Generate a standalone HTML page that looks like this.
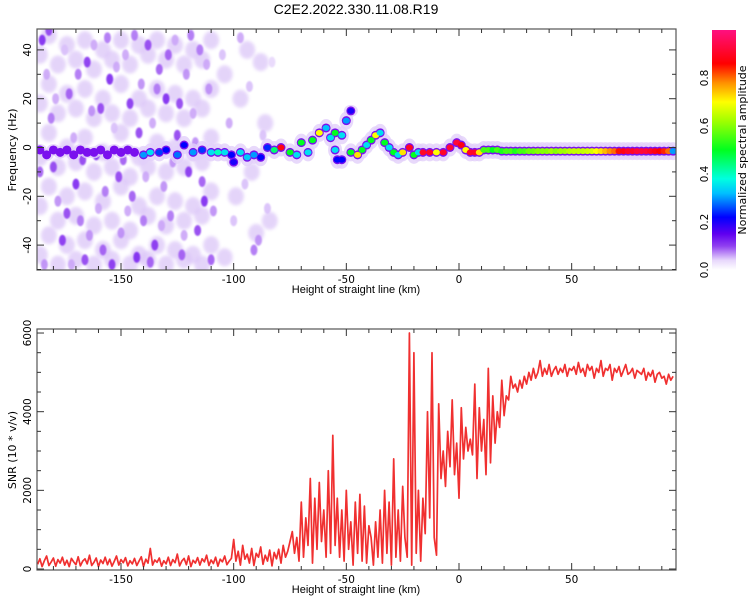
<!DOCTYPE html>
<html><head><meta charset="utf-8"><style>
html,body{margin:0;padding:0;background:#fff;}
svg{display:block;font-family:"DejaVu Sans","Liberation Sans",sans-serif;}
</style></head><body>
<svg id="chart" width="750" height="600" viewBox="0 0 750 600" xmlns="http://www.w3.org/2000/svg">
<defs>
<linearGradient id="cmap" x1="0" y1="1" x2="0" y2="0">
<stop offset="0" stop-color="#ffffff"/><stop offset="0.04" stop-color="#e8d8fc"/><stop offset="0.1" stop-color="#9040f0"/>
<stop offset="0.15" stop-color="#6000f0"/><stop offset="0.22" stop-color="#0000ff"/><stop offset="0.32" stop-color="#00c0ff"/>
<stop offset="0.38" stop-color="#00ffe0"/><stop offset="0.5" stop-color="#00ff20"/><stop offset="0.62" stop-color="#a0ff00"/>
<stop offset="0.7" stop-color="#ffff00"/><stop offset="0.78" stop-color="#ff9000"/><stop offset="0.86" stop-color="#ff0000"/><stop offset="1" stop-color="#ff1080"/>
</linearGradient>
<filter id="soft" x="-50%" y="-50%" width="200%" height="200%"><feGaussianBlur stdDeviation="0.8"/></filter>
<filter id="softer" x="-50%" y="-50%" width="200%" height="200%"><feGaussianBlur stdDeviation="1.5"/></filter>
<clipPath id="clipTop"><rect x="37" y="29" width="639" height="241"/></clipPath>
<clipPath id="clipBot"><rect x="37" y="329" width="639" height="241"/></clipPath>
</defs>
<text x="356" y="14" text-anchor="middle" font-size="14" font-family="Liberation Sans, sans-serif">C2E2.2022.330.11.08.R19</text>
<g id="topMarks" clip-path="url(#clipTop)"></g>
<g id="botMarks" clip-path="url(#clipBot)"></g>
<g id="axes"></g>
<rect x="712" y="30" width="24" height="240" fill="url(#cmap)"/>
<text transform="translate(746,150) rotate(-90)" text-anchor="middle" font-size="11">Normalized spectral amplitude</text>
<text transform="translate(16,150) rotate(-90)" text-anchor="middle" font-size="11">Frequency (Hz)</text>
<text x="356" y="293" text-anchor="middle" font-size="11" font-family="Liberation Sans, sans-serif">Height of straight line (km)</text>
<text transform="translate(16,450) rotate(-90)" text-anchor="middle" font-size="11">SNR (10 * v/v)</text>
<text x="356" y="593" text-anchor="middle" font-size="11" font-family="Liberation Sans, sans-serif">Height of straight line (km)</text>
</svg>
<script>
// ---- data ----
const hazeX=[-186,-186,-186,-186,-186,-182,-182,-182,-182,-182,-178,-178,-178,-178,-178,-174,-174,-174,-174,-174,-170,-170,-170,-170,-170,-166,-166,-166,-166,-166,-162,-162,-162,-162,-162,-158,-158,-158,-158,-158,-154,-154,-154,-154,-154,-150,-150,-150,-150,-150,-146,-146,-146,-146,-146,-142,-142,-142,-142,-142,-138,-138,-138,-138,-138,-134,-134,-134,-134,-134,-130,-130,-130,-130,-130,-126,-126,-126,-126,-126,-122,-122,-122,-122,-122,-118,-118,-118,-118,-118,-114,-114,-114,-114,-114,-110,-110,-110,-110,-110,-104,-99,-94,-90,-86,-104,-97,-92,-88,-84];
const hazeF=[38,18,-4,-24,-44,46,26,6,-16,-36,34,14,-8,-30,-48,42,22,0,-20,-40,36,16,-6,-28,-46,44,24,4,-18,-38,32,12,-10,-32,-48,40,20,-2,-22,-42,36,14,-8,-30,-46,44,26,6,-16,-38,34,12,-12,-34,-48,42,20,-4,-24,-44,38,16,-8,-28,-46,44,24,2,-20,-40,36,14,-10,-32,-48,42,22,0,-22,-42,34,12,-8,-30,-46,40,20,-2,-24,-44,36,16,-6,-28,-48,44,24,4,-18,-40,30,-20,40,-35,10,-45,20,-10,35,-30];
const noiseX=[-185,-183,-181,-180,-178,-176,-175,-173,-171,-170,-168,-166,-165,-163,-161,-160,-158,-156,-155,-153,-151,-150,-148,-146,-145,-143,-141,-140,-138,-136,-135,-133,-131,-130,-128,-126,-125,-123,-121,-120,-118,-116,-115,-113,-111,-110,-186,-184,-182,-179,-177,-174,-172,-169,-167,-164,-162,-159,-157,-154,-152,-149,-147,-144,-142,-139,-137,-134,-132,-129,-127,-124,-122,-119,-117,-114,-112,-109,-105,-102,-100,-97,-95,-93,-91,-89,-87,-85,-83];
const noiseF=[44,30,12,-8,-22,-38,40,22,4,-15,-30,-46,35,15,-3,-25,-42,45,28,8,-12,-35,38,18,-20,-45,26,-30,42,10,-40,32,-16,20,-28,44,5,-44,30,-10,14,-34,40,-22,24,-46,-10,-48,48,20,-2,-27,-48,30,-5,-36,42,16,-18,-48,33,-5,-26,46,6,-12,-47,24,-32,38,-6,18,-36,46,2,-14,34,-26,38,10,-30,45,-15,25,-42,-38,5,-25,35];
const noiseA=[.12,.06,.08,.1,.07,.11,.05,.09,.06,.12,.08,.1,.11,.07,.12,.06,.09,.08,.12,.05,.1,.07,.06,.11,.09,.12,.07,.08,.1,.06,.11,.09,.07,.12,.08,.06,.1,.09,.07,.11,.06,.1,.08,.12,.07,.09,.09,.07,.1,.06,.08,.1,.06,.08,.1,.07,.06,.1,.08,.11,.06,.09,.06,.08,.1,.06,.09,.08,.06,.09,.07,.1,.06,.08,.07,.09,.06,.07,.05,.06,.05,.06,.05,.05,.08,.07,.05,.05,.04];
const ridgeX=[-186,-183,-180,-177,-174,-171,-168,-165,-162,-159,-156,-153,-150,-147,-144,-140,-137,-133,-130,-125,-122,-118,-114,-110,-107,-104,-101,-100,-97,-94,-91,-88,-85,-82,-79,-75,-72,-70,-67,-65,-62,-59,-57,-55,-52,-50,-48,-54,-52,-55,-48,-45,-43,-41,-39,-37,-35,-33,-31,-29,-27,-25,-22,-20,-18,-16,-13,-10,-7,-4,-1,1,3,5,7,9,11,13,15,17,19,21,23,25,27,29,31,33,35,37,39,41,43,45,47,49,51,53,55,57,59,61,63,65,67,69,71,73,75,77,79,81,83,85,87,89,91,93,95];
const ridgeF=[-1,-3,-1,-2,-1,-3,-1,-2,-2,-1,-3,-1,-2,-1,-2,-3,-2,-2,-1,-3,1,-2,-1,-2,-2,-2,-3,-6,-2,-4,-3,-4,0,-1,0,-2,-3,2,-2,3,6,8,4,6,5,11,15,-5,-5,-1,-2,-3,-1,1,3,5,6,2,0,-2,-3,-2,0,-3,-2,-2,-2,-2,-2,0,2,1,-1,-2,-2,-2,-1,-1,-1,-1,-1.5,-1.5,-1.5,-1.5,-1.5,-1.5,-1.5,-1.5,-1.5,-1.5,-1.5,-1.5,-1.5,-1.5,-1.5,-1.5,-1.5,-1.5,-1.5,-1.5,-1.5,-1.5,-1.5,-1.5,-1.5,-1.5,-1.5,-1.5,-1.5,-1.5,-1.5,-1.5,-1.5,-1.5,-1.5,-1.5,-1.5,-1.5,-1.5];
const ridgeA=[.13,.15,.12,.14,.13,.15,.12,.14,.13,.15,.16,.14,.15,.16,.18,.3,.35,.25,.22,.28,.22,.3,.25,.35,.4,.35,.22,.2,.35,.33,.3,.22,.24,.45,.88,.5,.35,.5,.35,.5,.7,.32,.35,.5,.35,.3,.2,.22,.22,.35,.5,.72,.5,.35,.5,.7,.35,.5,.35,.5,.35,.72,.9,.5,.35,.9,.9,.7,.9,.92,.92,.88,.7,.9,.9,.72,.55,.55,.5,.55,.52,.55,.55,.52,.55,.55,.58,.58,.6,.6,.6,.62,.6,.62,.62,.64,.65,.65,.65,.66,.67,.7,.72,.75,.78,.8,.85,.88,.9,.9,.92,.92,.92,.9,.88,.86,.84,.8,.3];
const snrStart=-187, snrStep=1;
const snrValues=[120,260,60,210,330,90,180,280,70,240,150,300,100,220,60,270,180,110,310,80,200,260,130,350,90,170,280,60,230,140,300,110,250,70,190,330,100,240,160,290,80,210,130,270,90,200,310,60,250,150,520,100,230,170,280,70,210,130,300,90,240,160,380,80,200,270,110,330,60,220,150,290,100,260,180,350,90,230,140,300,70,250,180,330,110,200,270,
750,200,450,100,600,250,380,150,520,90,400,300,560,120,350,200,480,80,420,260,500,150,600,300,450,700,
950,400,800,200,1700,300,1300,600,2300,150,1800,500,2200,700,1500,300,2500,400,3400,600,
1800,300,1500,200,2000,500,1200,100,1700,400,1900,200,1600,150,1100,
800,100,1200,300,1500,150,2000,400,1700,100,2800,300,1500,200,2100,
800,300,6000,100,5500,400,2000,200,1800,900,4000,1300,5500,800,350,
4200,2300,3000,2100,3500,2600,4300,2400,3200,1800,4100,2800,3600,3000,3300,2900,4700,2300,4100,3000,3800,2400,5100,2700,4400,3200,4000,3600,4800,3900,4400,4300,4900,4600,4700,
4500,4800,4600,4900,4700,5000,4800,5100,4850,5000,5300,4900,5100,4950,5200,4900,5050,5150,4950,5100,5000,5200,4900,5100,5050,5150,4950,5250,5000,5100,4900,5200,5050,5150,4850,5100,5000,5300,4900,5100,5050,5200,4800,5100,5000,5150,4900,5050,5200,4950,5000,5100,4850,5050,5000,4950,5100,4800,5000,4900,5050,4750,4950,5000,4850,4900,4700,4950,4800,4900];
const xTicks=[-150,-100,-50,0,50];
const fTicks=[-40,-20,0,20,40];
const snrTicks=[0,2000,4000,6000];
const cbTicks=[0.0,0.2,0.4,0.6,0.8];

// ---- scales ----
const NS='http://www.w3.org/2000/svg';
const xS=v=>459+v*2.2533;
const fS=v=>147.5-v*2.44;
const sS=v=>569-v*0.03933;
const cS=v=>270-v*240;
const stops=[[0,[255,255,255]],[0.04,[232,216,252]],[0.1,[144,64,240]],[0.15,[96,0,240]],[0.22,[0,0,255]],[0.32,[0,192,255]],[0.38,[0,255,224]],[0.5,[0,255,32]],[0.62,[160,255,0]],[0.7,[255,255,0]],[0.78,[255,144,0]],[0.86,[255,0,0]],[1,[255,16,128]]];
function cmap(a){for(let i=1;i<stops.length;i++){if(a<=stops[i][0]){const t=(a-stops[i-1][0])/(stops[i][0]-stops[i-1][0]);const c=stops[i-1][1].map((v,k)=>Math.round(v+(stops[i][1][k]-v)*t));return 'rgb('+c.join(',')+')';}}return 'rgb(255,16,128)';}
function mk(tag,attrs,parent){const e=document.createElementNS(NS,tag);for(const k in attrs)e.setAttribute(k,attrs[k]);parent.appendChild(e);return e;}

const topG=document.getElementById('topMarks');
for(let i=0;i<hazeX.length;i++){
  const e=mk('ellipse',{cx:xS(hazeX[i]),cy:fS(hazeF[i]),rx:8,ry:9,fill:'#dcc6f8',opacity:0.75,filter:'url(#softer)'},topG);
  
  
}
for(let i=0;i<noiseX.length;i++){
  const e=mk('ellipse',{cx:xS(noiseX[i]),cy:fS(noiseF[i]),rx:3.5,ry:5.5,fill:cmap(noiseA[i]),opacity:0.9,filter:'url(#soft)'},topG);
  
  
}
for(let i=0;i<ridgeX.length;i++){
  const e=mk('ellipse',{cx:xS(ridgeX[i]),cy:fS(ridgeF[i]),rx:7,ry:ridgeA[i]>0.2?9:6,fill:'#e2d0fa',opacity:0.8},topG);
  
  
}
for(let i=0;i<ridgeX.length;i++){
  const e=mk('ellipse',{cx:xS(ridgeX[i]),cy:fS(ridgeF[i]),rx:4.5,ry:4.5,fill:'#7a10ee'},topG);
  
  
}
for(let i=0;i<ridgeX.length;i++){
  const a=ridgeA[i];
  if(a<0.2)continue;
  const e=mk('ellipse',{cx:xS(ridgeX[i]),cy:fS(ridgeF[i]),rx:3.5,ry:3,fill:cmap(a)},topG);
  
  
}
const botG=document.getElementById('botMarks');
let d='';
snrValues.forEach((v,i)=>{d+=(i?'L':'M')+xS(snrStart+i*snrStep).toFixed(1)+','+sS(v).toFixed(1);});
const ln=mk('path',{d:d,fill:'none',stroke:'#f03030','stroke-width':1.7,'stroke-linejoin':'round'},botG);



const ax=document.getElementById('axes');
function frame(y0,y1,name){
  const r=mk('rect',{x:37,y:y0,width:639,height:y1-y0,fill:'none',stroke:'#555','stroke-width':1.2},ax);
  
  
  for(let v=-180;v<=90;v+=10){
    const X=xS(v),L=(v%50===0)?7:4;
    mk('line',{x1:X,y1:y1,x2:X,y2:y1-L,stroke:'#333'},ax);
    mk('line',{x1:X,y1:y0,x2:X,y2:y0+L,stroke:'#333'},ax);
  }
  xTicks.forEach(v=>{
    const t=mk('text',{x:xS(v),y:y1+13,'text-anchor':'middle','font-size':10.5},ax);
    t.textContent=v;
    
    
  });
}
frame(29,270,'spectrogram-frame');
frame(329,570,'snr-frame');
for(let v=-50;v<=45;v+=10){const Y=fS(v);if(Y<29||Y>270)continue;const L=(v%20===0)?7:4;
  mk('line',{x1:37,y1:Y,x2:37+L,y2:Y,stroke:'#333'},ax);mk('line',{x1:676,y1:Y,x2:676-L,y2:Y,stroke:'#333'},ax);}
fTicks.forEach(v=>{
  const t=mk('text',{transform:'translate(31,'+fS(v)+') rotate(-90)','text-anchor':'middle','font-size':10.5},ax);
  t.textContent=v;
  
  
});
for(let v=0;v<=6000;v+=500){const Y=sS(v);const L=(v%2000===0)?7:4;
  mk('line',{x1:37,y1:Y,x2:37+L,y2:Y,stroke:'#333'},ax);mk('line',{x1:676,y1:Y,x2:676-L,y2:Y,stroke:'#333'},ax);}
snrTicks.forEach(v=>{
  const t=mk('text',{transform:'translate(31,'+sS(v)+') rotate(-90)','text-anchor':'middle','font-size':10.5},ax);
  t.textContent=v;
  
  
});
cbTicks.forEach(v=>{
  const t=mk('text',{transform:'translate(708,'+cS(v)+') rotate(-90)','text-anchor':'middle','font-size':10.5},ax);
  t.textContent=v.toFixed(1);
  
  
});
</script>
</body></html>
